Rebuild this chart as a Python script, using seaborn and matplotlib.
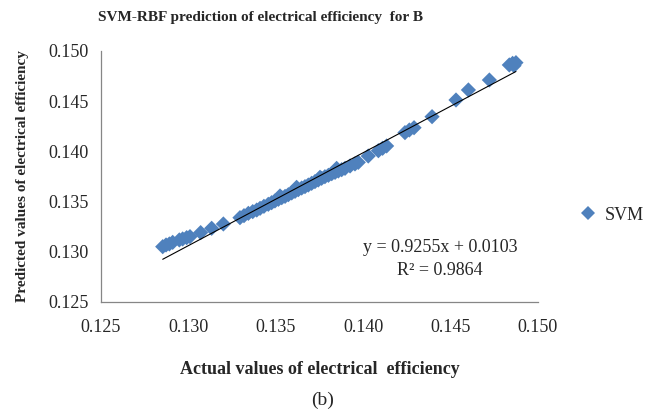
import numpy as np
import pandas as pd
import matplotlib
matplotlib.use("Agg")
import matplotlib.pyplot as plt
import seaborn as sns

actual = [0.12853, 0.12872, 0.12891, 0.12910, 0.12948, 0.12967, 0.12990, 0.13009,
          0.13070, 0.13133, 0.13200, 0.13295, 0.13318, 0.13343, 0.13368, 0.13391,
          0.13410, 0.13432, 0.13457, 0.13476, 0.13495, 0.13515, 0.13524, 0.13534,
          0.13553, 0.13572, 0.13591, 0.13610, 0.13619, 0.13629, 0.13648, 0.13667,
          0.13686, 0.13705, 0.13724, 0.13743, 0.13753, 0.13762, 0.13781, 0.13801,
          0.13820, 0.13839, 0.13848, 0.13858, 0.13877, 0.13896, 0.13925, 0.13953,
          0.13972, 0.14029, 0.14087, 0.14111, 0.14134, 0.14239, 0.14264, 0.14291,
          0.14394, 0.14531, 0.14602, 0.14722, 0.14836, 0.14855, 0.14874, 0.14863]
predicted = [0.13051, 0.13068, 0.13078, 0.13094, 0.13118, 0.13128, 0.13141, 0.13151,
             0.13191, 0.13234, 0.13277, 0.13340, 0.13360, 0.13383, 0.13400, 0.13416,
             0.13433, 0.13453, 0.13473, 0.13489, 0.13506, 0.13523, 0.13556, 0.13539,
             0.13552, 0.13569, 0.13586, 0.13602, 0.13642, 0.13619, 0.13635, 0.13649,
             0.13665, 0.13682, 0.13699, 0.13715, 0.13742, 0.13732, 0.13748, 0.13762,
             0.13778, 0.13791, 0.13831, 0.13805, 0.13818, 0.13831, 0.13855, 0.13875,
             0.13891, 0.13954, 0.14007, 0.14031, 0.14054, 0.14187, 0.14213, 0.14236,
             0.14346, 0.14512, 0.14612, 0.14711, 0.14861, 0.14877, 0.14884, 0.14854]
slope = 0.9255
intercept = 0.0103
r2 = 0.9864
x_ticks = [0.125, 0.130, 0.135, 0.140, 0.145, 0.150]
y_ticks = [0.125, 0.130, 0.135, 0.140, 0.145, 0.150]

df = pd.DataFrame({"actual": actual, "predicted": predicted, "series": "SVM"})

sns.set_style("white")
plt.rcParams["font.family"] = ["Liberation Serif", "DejaVu Serif"]

fig = plt.figure(figsize=(6.48, 4.17), dpi=100)
ax = fig.add_axes([0.1559, 0.2758, 0.6743, 0.6019])

blue = "#4F81BD"
sns.scatterplot(data=df, x="actual", y="predicted", hue="series", palette=[blue],
                marker="D", s=60, edgecolor="none", linewidth=0, ax=ax, zorder=3,
                legend=False)

xs = np.array([min(actual), max(actual)])
ax.plot(xs, slope * xs + intercept, color="black", lw=0.8, zorder=4)

ax.set_xlim(x_ticks[0], x_ticks[-1])
ax.set_ylim(y_ticks[0], y_ticks[-1])
ax.set_xticks(x_ticks)
ax.set_yticks(y_ticks)
ax.set_xticklabels([f"{t:.3f}" for t in x_ticks], fontsize=13)
ax.set_yticklabels([f"{t:.3f}" for t in y_ticks], fontsize=13)
ax.tick_params(direction="in", length=4, width=0.8, color="#868686")
ax.tick_params(axis="x", pad=12)
ax.tick_params(axis="y", pad=9)

for side in ["top", "right"]:
    ax.spines[side].set_visible(False)
for side in ["left", "bottom"]:
    ax.spines[side].set_color("#868686")
    ax.spines[side].set_linewidth(0.9)

ax.set_xlabel("Actual values of electrical  efficiency", fontsize=13, fontweight="bold", labelpad=18)
ax.set_ylabel("Predicted values of electrical efficiency", fontsize=11, fontweight="bold", labelpad=14)
fig.text(0.4020, 0.957, "SVM-RBF prediction of electrical efficiency  for B",
         ha="center", va="center", fontsize=11, fontweight="bold")

ax.text(0.776, 0.219, f"y = {slope}x + {intercept}", transform=ax.transAxes,
        ha="center", va="center", fontsize=13)
ax.text(0.776, 0.127, f"R² = {r2}", transform=ax.transAxes,
        ha="center", va="center", fontsize=13)

from matplotlib.lines import Line2D
handle = Line2D([], [], marker="D", color=blue, linestyle="none", markersize=7,
                markeredgewidth=0)
fig.legend([handle], list(df["series"].unique()), loc="center left",
           bbox_to_anchor=(0.8935, 0.4844), frameon=False, fontsize=13,
           handletextpad=0.4, handlelength=1.0, borderaxespad=0, borderpad=0)

fig.text(0.4985, 0.040, "(b)", ha="center", va="center", fontsize=14)

fig.savefig("out.png", dpi=100, facecolor="white")
